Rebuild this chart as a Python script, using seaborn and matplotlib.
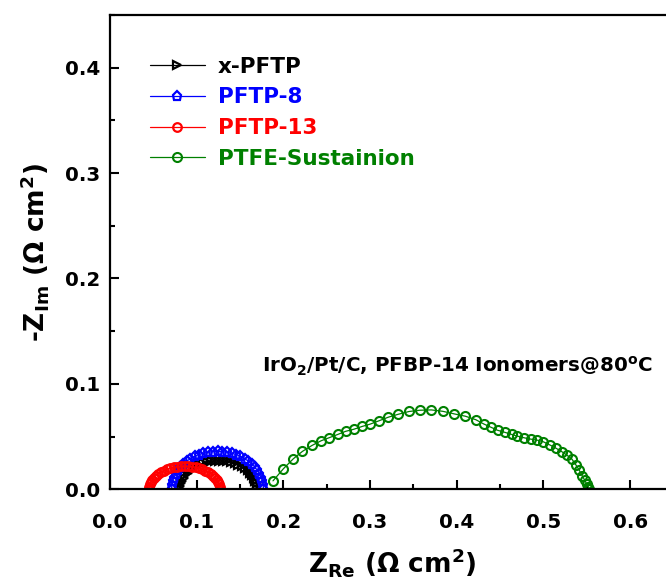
import matplotlib
matplotlib.use('Agg')
import matplotlib.pyplot as plt
import seaborn as sns
import pandas as pd
from matplotlib.ticker import MultipleLocator

# ---------------- data ----------------
series_names = ['x-PFTP', 'PFTP-8', 'PFTP-13', 'PTFE-Sustainion']
series_colors = ['#000000', '#0000FF', '#FF0000', '#008000']
series_markers = ['>', 'p', 'o', 'o']

xpftp_re = [0.081, 0.0812, 0.0820, 0.0832, 0.0848, 0.0870, 0.0895, 0.0924, 0.0957, 0.0993,
            0.1032, 0.1074, 0.1117, 0.1162, 0.1208, 0.1255, 0.1302, 0.1348, 0.1393, 0.1436,
            0.1478, 0.1517, 0.1553, 0.1586, 0.1615, 0.1640, 0.1662, 0.1678, 0.1690, 0.1698, 0.170]
xpftp_im = [0.0, 0.0028, 0.0056, 0.0083, 0.0110, 0.0135, 0.0159, 0.0181, 0.0201, 0.0218,
            0.0234, 0.0247, 0.0257, 0.0264, 0.0269, 0.0270, 0.0269, 0.0264, 0.0257, 0.0247,
            0.0234, 0.0218, 0.0201, 0.0181, 0.0159, 0.0135, 0.0110, 0.0083, 0.0056, 0.0028, 0.0]

pftp8_re = [0.071, 0.0713, 0.0722, 0.0736, 0.0756, 0.0781, 0.0811, 0.0846, 0.0885, 0.0928,
            0.0975, 0.1024, 0.1076, 0.1130, 0.1185, 0.1240, 0.1295, 0.1350, 0.1404, 0.1456,
            0.1505, 0.1552, 0.1595, 0.1634, 0.1669, 0.1699, 0.1724, 0.1744, 0.1758, 0.1767, 0.177]
pftp8_im = [0.0, 0.0038, 0.0075, 0.0111, 0.0146, 0.0180, 0.0212, 0.0241, 0.0267, 0.0291,
            0.0312, 0.0329, 0.0342, 0.0352, 0.0358, 0.0360, 0.0358, 0.0352, 0.0342, 0.0329,
            0.0312, 0.0291, 0.0267, 0.0241, 0.0212, 0.0180, 0.0146, 0.0111, 0.0075, 0.0038, 0.0]

pftp13_re = [0.045, 0.0452, 0.0459, 0.0470, 0.0485, 0.0505, 0.0528, 0.0555, 0.0586, 0.0619,
             0.0655, 0.0693, 0.0733, 0.0775, 0.0817, 0.0860, 0.0903, 0.0945, 0.0987, 0.1027,
             0.1065, 0.1101, 0.1134, 0.1165, 0.1192, 0.1215, 0.1235, 0.1250, 0.1261, 0.1268, 0.127]
pftp13_im = [0.0, 0.0023, 0.0046, 0.0068, 0.0089, 0.0110, 0.0129, 0.0147, 0.0163, 0.0178,
             0.0191, 0.0201, 0.0209, 0.0215, 0.0219, 0.0220, 0.0219, 0.0215, 0.0209, 0.0201,
             0.0191, 0.0178, 0.0163, 0.0147, 0.0129, 0.0110, 0.0089, 0.0068, 0.0046, 0.0023, 0.0]

ptfe_re = [0.188, 0.200, 0.2115, 0.222, 0.233, 0.2434, 0.253, 0.2626, 0.2718, 0.2814,
           0.2907, 0.300, 0.3103, 0.321, 0.3326, 0.3449, 0.3576, 0.3706, 0.3837, 0.3972,
           0.410, 0.422, 0.431, 0.439, 0.447, 0.4556, 0.4633, 0.470, 0.478, 0.4852,
           0.4929, 0.500, 0.5075, 0.5148, 0.5213, 0.527, 0.533, 0.5375, 0.5413, 0.5448,
           0.5475, 0.5498, 0.5517, 0.5528]
ptfe_im = [0.008, 0.0195, 0.029, 0.036, 0.0416, 0.046, 0.049, 0.052, 0.055, 0.057,
           0.0596, 0.0618, 0.065, 0.0684, 0.0712, 0.0738, 0.075, 0.0753, 0.074, 0.0715,
           0.0693, 0.066, 0.062, 0.059, 0.056, 0.054, 0.052, 0.0504, 0.0488, 0.0476,
           0.0466, 0.045, 0.042, 0.0388, 0.0356, 0.0325, 0.0284, 0.023, 0.018, 0.0126,
           0.0088, 0.005, 0.0025, 0.0006]

series_re = [xpftp_re, pftp8_re, pftp13_re, ptfe_re]
series_im = [xpftp_im, pftp8_im, pftp13_im, ptfe_im]

x_ticks = [0.0, 0.1, 0.2, 0.3, 0.4, 0.5, 0.6]
y_ticks = [0.0, 0.1, 0.2, 0.3, 0.4]
annotation = r'IrO$_\mathbf{2}$/Pt/C, PFBP-14 Ionomers@80$^\mathbf{o}$C'

# ---------------- style ----------------
sns.set_style('ticks')
plt.rcParams['font.family'] = ['DejaVu Sans']
plt.rcParams['font.weight'] = 'bold'
plt.rcParams['mathtext.fontset'] = 'dejavusans'
for key in ['text.color', 'axes.labelcolor', 'xtick.color', 'ytick.color',
            'axes.edgecolor', 'xtick.labelcolor', 'ytick.labelcolor']:
    plt.rcParams[key] = 'black'

fig = plt.figure(figsize=(6.66, 5.82), dpi=100)
ax = fig.add_axes([0.1652, 0.1593, 0.8461, 0.8150])

sizes = [6.2, 6.8, 6.2, 6.5]
mews = [1.6, 1.6, 1.6, 1.5]
for name, c, m, xs, ys, ms, mw in zip(series_names, series_colors, series_markers,
                                      series_re, series_im, sizes, mews):
    df = pd.DataFrame({'re': xs, 'im': ys})
    sns.lineplot(data=df, x='re', y='im', sort=False, estimator=None, ax=ax,
                 color=c, marker=m, markersize=ms, markerfacecolor='none',
                 markeredgecolor=c, markeredgewidth=mw, linewidth=0.9,
                 label=name)

ax.set_xlim(0, 0.65)
ax.set_ylim(0, 0.45)
ax.set_xticks(x_ticks)
ax.set_yticks(y_ticks)
ax.set_xticklabels([f'{v:.1f}' for v in x_ticks])
ax.set_yticklabels([f'{v:.1f}' for v in y_ticks])
ax.xaxis.set_minor_locator(MultipleLocator(0.05))
ax.yaxis.set_minor_locator(MultipleLocator(0.05))
ax.tick_params(which='both', direction='in', top=False, right=False, width=1.5,
               labelsize=14.3, colors='black')
ax.tick_params(which='major', length=6.5)
ax.tick_params(which='minor', length=3.5)
ax.tick_params(axis='x', which='major', pad=17)
ax.tick_params(axis='y', which='major', pad=7)
for lab in ax.get_xticklabels() + ax.get_yticklabels():
    lab.set_fontweight('bold')
for s in ax.spines.values():
    s.set_linewidth(1.6)
    s.set_color('black')
ax.spines['right'].set_visible(False)

ax.set_xlabel(r'$\mathbf{Z_{Re}}$ $(\mathrm{\Omega}$ $\mathbf{cm^{2}})$', fontsize=19,
              fontweight='bold', labelpad=10, color='black')
ax.set_ylabel(r'-$\mathbf{Z_{Im}}$ $(\mathrm{\Omega}$ $\mathbf{cm^{2}})$', fontsize=19,
              fontweight='bold', labelpad=10, color='black')

ax.text(0.1753, 0.1166, annotation, fontsize=14.3, fontweight='bold',
        ha='left', va='center', color='black')

leg = ax.legend(loc='upper left', bbox_to_anchor=(0.071, 0.912), frameon=False,
                fontsize=15.5, handlelength=2.55, handletextpad=0.6,
                labelspacing=0.5, borderpad=0, borderaxespad=0)
for txt, c in zip(leg.get_texts(), series_colors):
    txt.set_color(c)
    txt.set_fontweight('bold')

fig.savefig('out.png', dpi=100)
